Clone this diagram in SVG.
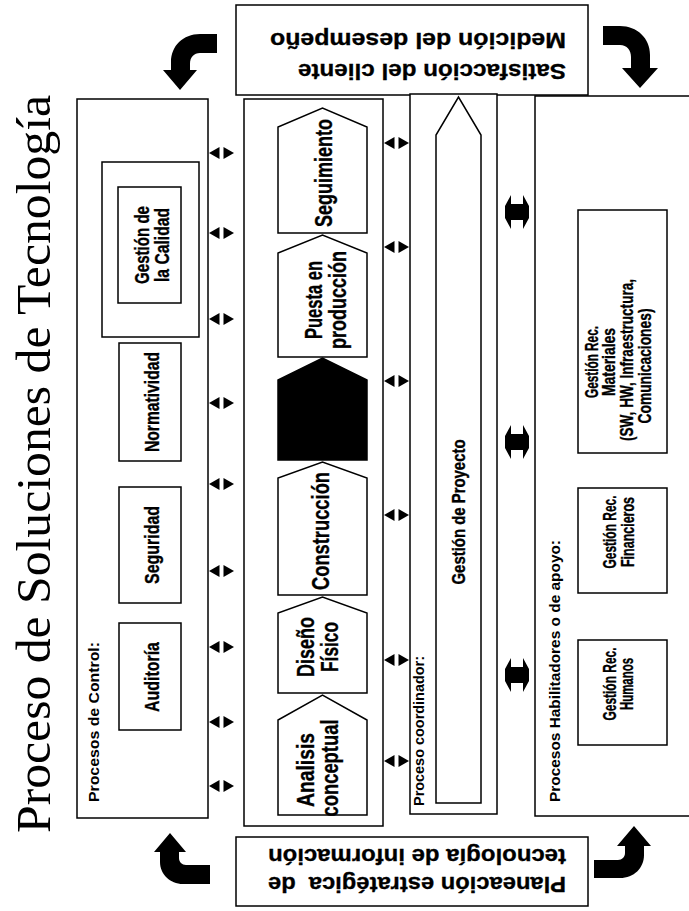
<svg xmlns="http://www.w3.org/2000/svg" width="689" height="911" viewBox="0 0 689 911">
<style>
.box{fill:#fff;stroke:#000;stroke-width:1.5}
.lbl{font-family:"Liberation Sans Narrow","Liberation Sans",Arial,sans-serif;font-weight:bold;fill:#000;stroke:#000;stroke-width:0.35;text-anchor:middle;dominant-baseline:central}
.s1{font-size:21px}
.s2{font-size:23px}
.s4{font-size:17.5px}
.sec{font-family:"Liberation Sans",Arial,sans-serif;font-weight:bold;font-size:15px;fill:#000;dominant-baseline:central}
.big{font-family:"Liberation Sans",Arial,sans-serif;font-weight:bold;font-size:22px;fill:#000;stroke:#000;stroke-width:0.3;dominant-baseline:central}
.title{font-family:"Liberation Serif","Times New Roman",serif;font-size:48px;fill:#000;text-anchor:middle}
.blk{fill:#000}
</style>
<defs>
<g id="dbl"><polygon points="-12.5,0 -2,-6 -2,6"/><polygon points="12.5,0 2,-6 2,6"/></g>
<polygon id="fat" points="-12,-6 -6,-17 -6,-8 6,-8 6,-17 12,-6 12,6 6,17 6,8 -6,8 -6,17 -12,6"/>
</defs>

<g id="title">
<text class="title" transform="translate(50,464) rotate(-90)" textLength="738" lengthAdjust="spacingAndGlyphs">Proceso de Soluciones de Tecnología</text>
</g>

<g id="satisfaccion">
<rect class="box" x="236" y="5" width="352" height="90"/>
<text class="big" transform="translate(566,71) rotate(180)" textLength="268" lengthAdjust="spacingAndGlyphs">Satisfacción del cliente</text>
<text class="big" transform="translate(566,40) rotate(180)" textLength="296" lengthAdjust="spacingAndGlyphs">Medición del desempeño</text>
</g>

<g id="planeacion">
<rect class="box" x="236" y="837" width="352" height="69"/>
<text class="big" transform="translate(566,884) rotate(180)" style="white-space:pre" textLength="298" lengthAdjust="spacingAndGlyphs">Planeación estratégica  de</text>
<text class="big" transform="translate(566,856) rotate(180)" textLength="298" lengthAdjust="spacingAndGlyphs">tecnología de información</text>
</g>

<g id="control">
<rect class="box" x="77" y="99" width="131" height="719"/>
<text class="sec" transform="translate(93,802) rotate(-90)" textLength="160" lengthAdjust="spacingAndGlyphs">Procesos de Control:</text>
<g id="auditoria"><rect class="box" x="119" y="623" width="62" height="107"/>
<text class="lbl s1" transform="translate(151,677) rotate(-90)" textLength="70" lengthAdjust="spacingAndGlyphs">Auditoría</text></g>
<g id="seguridad"><rect class="box" x="119" y="487" width="62" height="116"/>
<text class="lbl s1" transform="translate(151,545) rotate(-90)" textLength="78" lengthAdjust="spacingAndGlyphs">Seguridad</text></g>
<g id="normatividad"><rect class="box" x="119" y="343" width="62" height="118"/>
<text class="lbl s1" transform="translate(151,402) rotate(-90)" textLength="100" lengthAdjust="spacingAndGlyphs">Normatividad</text></g>
<g id="calidad"><rect class="box" x="102" y="162" width="97" height="175"/>
<rect class="box" x="118" y="187" width="63" height="116"/>
<text class="lbl s1" transform="translate(141,245) rotate(-90)" textLength="78" lengthAdjust="spacingAndGlyphs">Gestión de</text>
<text class="lbl s1" transform="translate(161,245) rotate(-90)" textLength="74" lengthAdjust="spacingAndGlyphs">la Calidad</text></g>
</g>

<g id="etapas">
<rect class="box" x="244" y="99" width="139" height="727"/>
<g id="seguimiento"><polygon class="box" points="278,233 278,127 322.5,108 367,127 367,233"/>
<text class="lbl s2" transform="translate(324,173) rotate(-90)" textLength="108" lengthAdjust="spacingAndGlyphs">Seguimiento</text></g>
<g id="puesta"><polygon class="box" points="278,357 278,253 322.5,235 367,253 367,357"/>
<text class="lbl s2" transform="translate(314,300) rotate(-90)" textLength="78" lengthAdjust="spacingAndGlyphs">Puesta en</text>
<text class="lbl s2" transform="translate(338,300) rotate(-90)" textLength="98" lengthAdjust="spacingAndGlyphs">producción</text></g>
<g id="negro"><polygon points="278,460 278,380 322.5,358 367,380 367,460" fill="#000" stroke="#000" stroke-width="1.5"/></g>
<g id="construccion"><polygon class="box" points="278,595 278,478 322.5,462 367,478 367,595"/>
<text class="lbl s2" transform="translate(321,531) rotate(-90)" textLength="118" lengthAdjust="spacingAndGlyphs">Construcción</text></g>
<g id="diseno"><polygon class="box" points="278,693 278,613 322.5,597 367,613 367,693"/>
<text class="lbl s2" transform="translate(306,647) rotate(-90)" textLength="60" lengthAdjust="spacingAndGlyphs">Diseño</text>
<text class="lbl s2" transform="translate(330,647) rotate(-90)" textLength="50" lengthAdjust="spacingAndGlyphs">Físico</text></g>
<g id="analisis"><polygon class="box" points="278,815 278,720 322.5,695 367,720 367,815"/>
<text class="lbl s2" transform="translate(306,770) rotate(-90)" textLength="74" lengthAdjust="spacingAndGlyphs">Analisis</text>
<text class="lbl s2" transform="translate(330,768) rotate(-90)" textLength="97" lengthAdjust="spacingAndGlyphs">conceptual</text></g>
</g>

<g id="coordinador">
<rect class="box" x="410" y="94" width="87" height="720"/>
<text class="sec" transform="translate(418,806) rotate(-90)" textLength="150" lengthAdjust="spacingAndGlyphs">Proceso coordinador:</text>
<g id="proyecto"><polygon class="box" points="436,803 436,135 458.5,97 481,135 481,803"/>
<text class="lbl s4" transform="translate(459,512) rotate(-90)" textLength="145" lengthAdjust="spacingAndGlyphs">Gestión de Proyecto</text></g>
</g>

<g id="habilitadores">
<rect class="box" x="535" y="96" width="170" height="720"/>
<text class="sec" transform="translate(554,802) rotate(-90)" textLength="262" lengthAdjust="spacingAndGlyphs">Procesos Habilitadores o de apoyo:</text>
<g id="materiales"><rect class="box" x="578" y="210" width="89" height="243"/>
<text class="lbl s4" transform="translate(592,362) rotate(-90)" textLength="72" lengthAdjust="spacingAndGlyphs">Gestión Rec.</text>
<text class="lbl s4" transform="translate(609,362) rotate(-90)" textLength="68" lengthAdjust="spacingAndGlyphs">Materiales</text>
<text class="lbl s4" transform="translate(627,360) rotate(-90)" textLength="162" lengthAdjust="spacingAndGlyphs">(SW, HW, Infraestructura,</text>
<text class="lbl s4" transform="translate(645,366) rotate(-90)" textLength="115" lengthAdjust="spacingAndGlyphs">Comunicaciones)</text></g>
<g id="financieros"><rect class="box" x="578" y="488" width="89" height="105"/>
<text class="lbl s4" transform="translate(610,532) rotate(-90)" textLength="73" lengthAdjust="spacingAndGlyphs">Gestión Rec.</text>
<text class="lbl s4" transform="translate(628,532) rotate(-90)" textLength="70" lengthAdjust="spacingAndGlyphs">Financieros</text></g>
<g id="humanos"><rect class="box" x="578" y="640" width="89" height="105"/>
<text class="lbl s4" transform="translate(610,684) rotate(-90)" textLength="73" lengthAdjust="spacingAndGlyphs">Gestión Rec.</text>
<text class="lbl s4" transform="translate(627,684) rotate(-90)" textLength="52" lengthAdjust="spacingAndGlyphs">Humanos</text></g>
</g>

<g id="connectors">
<use href="#dbl" x="221.5" y="153"/><use href="#dbl" x="221.5" y="233"/><use href="#dbl" x="221.5" y="319"/>
<use href="#dbl" x="221.5" y="403"/><use href="#dbl" x="221.5" y="484"/><use href="#dbl" x="221.5" y="571"/>
<use href="#dbl" x="221.5" y="647"/><use href="#dbl" x="221.5" y="722"/><use href="#dbl" x="221.5" y="786"/>
<use href="#dbl" x="396.5" y="143"/><use href="#dbl" x="396.5" y="247"/><use href="#dbl" x="396.5" y="381"/>
<use href="#dbl" x="396.5" y="515"/><use href="#dbl" x="396.5" y="660"/><use href="#dbl" x="396.5" y="761"/>
<use href="#fat" x="517" y="212"/><use href="#fat" x="517" y="442"/><use href="#fat" x="517" y="675"/>
<path class="blk" d="M217,34 L200,34 C183,34 171,46 171,62 L171,70 L163,70 L180,90 L197,70 L190,70 L190,64 C190,57 194,53 200,53 L217,53 Z"/>
<path class="blk" d="M603,26 L620,26 C637,26 650,38 650,55 L650,68 L658,68 L640,88 L622,68 L631,68 L631,57 C631,50 627,45 620,45 L603,45 Z"/>
<path class="blk" d="M210,884 L183,884 C170,884 160,874 160,862 L160,852 L154,852 L170,833 L186,852 L179,852 L179,858 C179,862 182,865 186,865 L210,865 Z"/>
<path class="blk" d="M594,860 L618,860 C622,860 625,857 625,853 L625,846 L617,846 L634,826 L651,846 L644,846 L644,855 C644,868 634,878 620,878 L594,878 Z"/>
</g>
</svg>
